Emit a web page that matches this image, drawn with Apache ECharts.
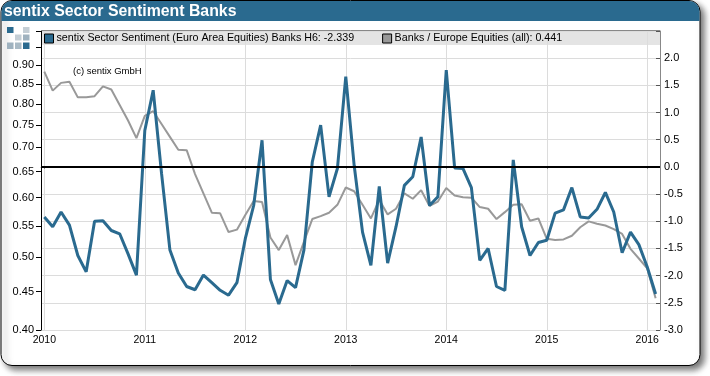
<!DOCTYPE html>
<html lang="en">
<head>
    <meta charset="UTF-8">
    <title>sentix Sector Sentiment Banks</title>
    <script src="https://cdn.jsdelivr.net/npm/echarts@6/dist/echarts.min.js"></script>
    <style>
        html, body { margin: 0; padding: 0; background: #fff; }
        #main { width: 710px; height: 376px; }
    </style>
</head>
<body>
    <div id="main"></div>
    <script>
        // sentiment, monthly from 2010-01, right axis
        var sentimentValues = [
            -0.92, -1.10, -0.83, -1.07, -1.63, -1.93, -1.00, -0.99, -1.17, -1.23, -1.60, -1.99,
            0.67, 1.41, -0.12, -1.53, -1.95, -2.20, -2.26, -1.99, -2.13, -2.27, -2.36, -2.13,
            -1.32, -0.71, 0.49, -2.07, -2.52, -2.09, -2.22, -1.53, 0.09, 0.77, -0.55, -0.03,
            1.66, 0.03, -1.20, -1.81, -0.36, -1.77, -1.10, -0.34, -0.18, 0.55, -0.71, -0.55,
            1.78, -0.02, -0.03, -0.38, -1.72, -1.50, -2.20, -2.27, 0.13, -1.10, -1.63, -1.39,
            -1.35, -0.85, -0.79, -0.38, -0.92, -0.94, -0.78, -0.47, -0.83, -1.58, -1.20, -1.43,
            -1.84, -2.339
        ];
        // price ratio, left log axis
        var ratioValues = [
            0.883, 0.833, 0.853, 0.856, 0.816, 0.816, 0.819, 0.844, 0.836, 0.797, 0.760, 0.720,
            0.771, 0.782, 0.752, 0.723, 0.695, 0.694, 0.645, 0.608, 0.573, 0.572, 0.540, 0.544,
            0.569, 0.594, 0.592, 0.531, 0.511, 0.535, 0.488, 0.524, 0.562, 0.567, 0.573, 0.587,
            0.619, 0.612, 0.587, 0.563, 0.596, 0.570, 0.580, 0.608, 0.598, 0.614, 0.585, 0.593,
            0.618, 0.604, 0.601, 0.600, 0.583, 0.580, 0.562, 0.574, 0.587, 0.588, 0.559, 0.563,
            0.529, 0.527, 0.528, 0.534, 0.548, 0.558, 0.554, 0.551, 0.545, 0.537, 0.513, 0.498,
            0.483, 0.441
        ];
        var yearTicks = [2010, 2011, 2012, 2013, 2014, 2015, 2016];
        var leftTicks = [0.40, 0.45, 0.50, 0.55, 0.60, 0.65, 0.70, 0.75, 0.80, 0.85, 0.90, 0.95, 1.00];
        var leftLabels = [0.40, 0.45, 0.50, 0.55, 0.60, 0.65, 0.70, 0.75, 0.80, 0.85, 0.90];
        var sentimentName = 'sentix Sector Sentiment (Euro Area Equities) Banks H6: -2.339';
        var ratioName = 'Banks / Europe Equities (all): 0.441';

        var blue = '#2a6a8f';
        var font = '"Liberation Sans", Arial, sans-serif';

        // x is a fractional year: month i counted from January 2010
        function pairs(values) {
            return values.map(function (v, i) { return [2010 + i / 12, v]; });
        }
        function square(x, y, w, h, color) {
            return {type: 'rect', z: -5, shape: {x: x, y: y, width: w, height: h}, style: {fill: color}};
        }

        var chart = echarts.init(document.getElementById('main'));
        chart.setOption({
            animation: false,
            textStyle: {fontFamily: font},
            grid: {left: 41, right: 50, top: 31, bottom: 46},
            legend: {
                left: 41, top: 32, padding: [1, 0, 0, 3], itemWidth: 9, itemHeight: 9, itemGap: 28,
                icon: 'rect',
                textStyle: {fontSize: 10.7, color: '#000', padding: [0, 0, 0, -2]},
                data: [
                    {name: sentimentName, itemStyle: {color: blue, borderColor: '#000', borderWidth: 1}},
                    {name: ratioName, itemStyle: {color: '#999', borderColor: '#000', borderWidth: 1}}
                ]
            },
            xAxis: {
                type: 'value',
                min: 2009.967,
                max: 2016.127,
                axisLine: {lineStyle: {color: '#888', width: 1}},
                axisTick: {length: 2, lineStyle: {color: '#888'}, customValues: yearTicks},
                axisLabel: {
                    color: '#000', fontSize: 10.5, margin: 5, customValues: yearTicks,
                    formatter: function (v) { return String(Math.round(v)); }
                },
                splitLine: {show: true, lineStyle: {color: '#dcdcdc', width: 1}}
            },
            yAxis: [{
                type: 'log',
                position: 'left',
                min: 0.4,
                max: 1,
                axisLine: {show: true, lineStyle: {color: '#000', width: 1}},
                axisTick: {show: true, length: 5, lineStyle: {color: '#000'}, customValues: leftTicks},
                axisLabel: {
                    color: '#000', fontSize: 11, margin: 7, customValues: leftLabels,
                    formatter: function (v) { return Number(v).toFixed(2); }
                },
                splitLine: {show: false},
                minorTick: {show: false}
            }, {
                type: 'value',
                position: 'right',
                min: -3,
                max: 2.5,
                interval: 0.5,
                axisLine: {show: true, lineStyle: {color: '#888', width: 1}},
                axisTick: {show: true, inside: true, length: 4, lineStyle: {color: '#555'}},
                axisLabel: {
                    color: '#000', fontSize: 11, margin: 4,
                    formatter: function (v) { return v === 2.5 ? '' : v.toFixed(1); }
                },
                splitLine: {show: true, lineStyle: {color: '#dcdcdc', width: 1}}
            }],
            series: [{
                name: ratioName,
                type: 'line',
                yAxisIndex: 0,
                data: pairs(ratioValues),
                showSymbol: false,
                z: 2,
                itemStyle: {color: '#999'},
                lineStyle: {color: '#999', width: 2}
            }, {
                name: sentimentName,
                type: 'line',
                yAxisIndex: 1,
                data: pairs(sentimentValues),
                showSymbol: false,
                z: 3,
                itemStyle: {color: blue},
                lineStyle: {color: blue, width: 3},
                markLine: {
                    silent: true,
                    symbol: 'none',
                    label: {show: false},
                    lineStyle: {color: '#000', width: 2, type: 'solid'},
                    data: [{yAxis: 0}]
                }
            }],
            graphic: [
                // card, title bar
                {type: 'rect', z: -20, shape: {x: 1, y: 0.5, width: 699, height: 365, r: 11},
                    style: {fill: '#fff', stroke: '#000', lineWidth: 1, shadowBlur: 6, shadowOffsetX: 4, shadowOffsetY: 4, shadowColor: 'rgba(0,0,0,0.55)'}},
                {type: 'rect', z: -19, shape: {x: 1.5, y: 1, width: 698, height: 20, r: [10, 10, 0, 0]}, style: {fill: blue}},
                {type: 'text', z: 5, x: 4, y: 4, style: {text: 'sentix Sector Sentiment Banks', fill: '#fff', font: 'bold 15.85px ' + font}},
                // logo
                square(7, 27, 6.5, 6, '#2a6a8f'), square(23, 27, 6.5, 6, '#c4ced5'),
                square(15, 34.5, 6.5, 6, '#c4ced5'), square(23, 34.5, 6.5, 6, '#9fb2bf'),
                square(7, 42.5, 6.5, 6.5, '#9fb2bf'), square(15, 42.5, 6.5, 6.5, '#a9bac5'), square(23, 42.5, 6.5, 6.5, '#2a6a8f'),
                // legend band
                {type: 'rect', z: -5, shape: {x: 41, y: 31, width: 619, height: 14}, style: {fill: '#e4e4e4'}},
                {type: 'line', z: 1, shape: {x1: 41, y1: 30.5, x2: 660, y2: 30.5}, style: {stroke: '#888', lineWidth: 1}},
                {type: 'text', z: 5, x: 73, y: 66.5, style: {text: '(c) sentix GmbH', fill: '#000', font: '9.5px ' + font}}
            ]
        });
    </script>
</body>
</html>
